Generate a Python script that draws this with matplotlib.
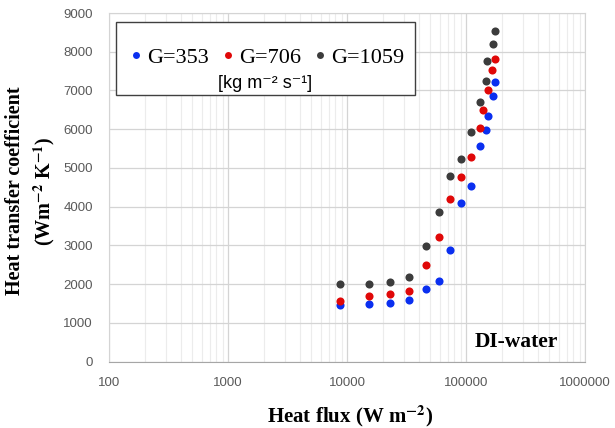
import matplotlib
matplotlib.use("Agg")
import matplotlib.pyplot as plt
from matplotlib.ticker import FuncFormatter, LogLocator, MultipleLocator
from matplotlib.patches import Rectangle
from matplotlib.lines import Line2D

# heat flux (W m^-2) for each mass flux series
heat_flux = [8680, 15200, 23100, 33400, 45800, 59700, 73800, 91400, 109400, 131000, 147000, 153000, 167500, 176200]
heat_flux_red = [8680, 15200, 23100, 33400, 45800, 59700, 73800, 91400, 109400, 131000, 139900, 153000, 165300, 176200]
heat_flux_blk = [8680, 15200, 23100, 33400, 45800, 59700, 73800, 90200, 109400, 131000, 147000, 151000, 167500, 176200]

htc_353 = [1462, 1488, 1522, 1600, 1883, 2081, 2880, 4101, 4523, 5580, 5985, 6337, 6862, 7223]
htc_706 = [1565, 1685, 1737, 1831, 2494, 3207, 4196, 4764, 5280, 6036, 6509, 7025, 7541, 7816]
htc_1059 = [2003, 2003, 2064, 2193, 2984, 3852, 4798, 5228, 5916, 6707, 7240, 7764, 8211, 8538]

labels = ["G=353", "G=706", "G=1059"]
colors = ["#0a2ff0", "#e00808", "#3c3c3c"]

plt.rcParams["mathtext.fontset"] = "stix"
serif = ["Liberation Serif", "DejaVu Serif"]
sans = ["Liberation Sans", "DejaVu Sans"]

W, H = 615, 428
fig = plt.figure(figsize=(W / 100, H / 100), dpi=100)
ax = fig.add_axes([109 / W, 1 - 361.7 / H, 476 / W, 348.7 / H])


def ax_xy(px, py):
    # pixel position in the figure -> axes fraction
    return (px - 109) / 476, (361.7 - py) / 348.7


series = [(heat_flux, htc_353), (heat_flux_red, htc_706), (heat_flux_blk, htc_1059)]
for (x, y), c in zip(series, colors):
    ax.scatter(x, y, s=34, color=c, zorder=3, linewidths=0)

ax.set_xscale("log")
ax.set_xlim(100, 1000000)
ax.set_ylim(0, 9000)
ax.yaxis.set_major_locator(MultipleLocator(1000))
ax.xaxis.set_major_locator(LogLocator(base=10, numticks=10))
ax.xaxis.set_minor_locator(LogLocator(base=10, subs=range(2, 10), numticks=100))
ax.xaxis.set_major_formatter(FuncFormatter(lambda v, p: f"{int(round(v))}"))
ax.xaxis.set_minor_formatter(FuncFormatter(lambda v, p: ""))

ax.grid(True, which="major", color="#d4d4d4", linewidth=0.9)
ax.grid(True, which="minor", axis="x", color="#ececec", linewidth=0.8)
ax.set_axisbelow(True)
ax.tick_params(which="both", length=0, colors="#595959")
ax.tick_params(axis="x", pad=11)
ax.tick_params(axis="y", pad=11.5)
for lbl in ax.get_xticklabels() + ax.get_yticklabels():
    lbl.set_family(sans)
    lbl.set_fontsize(9.5)
for side in ["left", "right", "top"]:
    ax.spines[side].set_color("#d4d4d4")
ax.spines["bottom"].set_color("#a6a6a6")

fig.text(350 / W, 1 - 416 / H, r"Heat flux (W m$^{\mathbf{-2}}$)", family=serif, fontweight="bold",
         fontsize=15, ha="center", va="center")
fig.text(31 / W, 1 - 191 / H, "Heat transfer coefficient\n" + r"(Wm$^{\mathbf{-2}}$ K$^{\mathbf{-1}}$)",
         family=serif, fontweight="bold", fontsize=14.5, rotation=90, ha="center", va="center",
         multialignment="center", linespacing=1.3)

ax.text(*ax_xy(558, 342), "DI-water", transform=ax.transAxes, ha="right", va="center",
        family=serif, fontweight="bold", fontsize=15.5)

# legend box drawn by hand: one row of entries plus the unit line below
bx, by = ax_xy(116, 95)
box = Rectangle((bx, by), 299 / 476, 73 / 348.7, transform=ax.transAxes,
                facecolor="white", edgecolor="#404040", linewidth=1.0, zorder=4)
ax.add_patch(box)
handles = [Line2D([], [], marker="o", linestyle="none", markersize=5, markerfacecolor=c,
                  markeredgewidth=0) for c in colors]
leg = ax.legend(handles, labels, ncol=3, loc="center", bbox_to_anchor=ax_xy(266, 58),
                frameon=False, handletextpad=0.1, handlelength=0.8, columnspacing=0.45,
                prop={"family": serif, "size": 16}, borderpad=0)
leg.set_zorder(5)
ax.text(*ax_xy(265, 83), "[kg m⁻² s⁻¹]", transform=ax.transAxes,
        ha="center", va="center", family=sans, fontsize=13, zorder=6)

fig.savefig("out.png", dpi=100)
